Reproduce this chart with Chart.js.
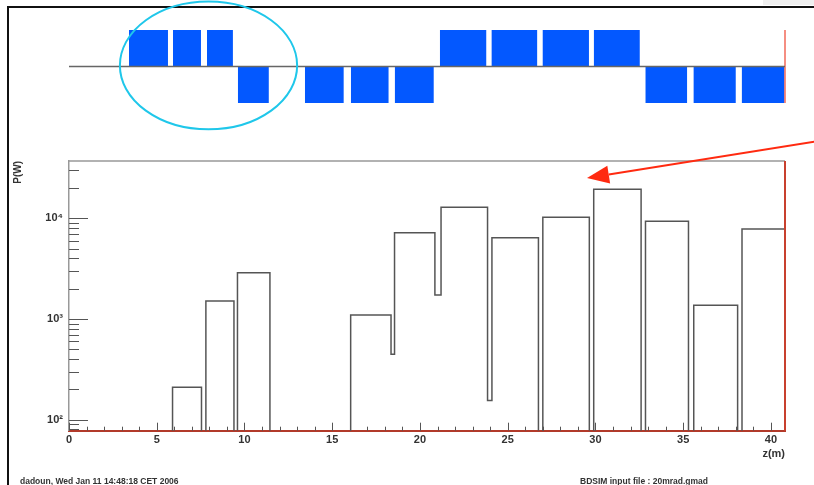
<!DOCTYPE html>
<html>
<head>
<meta charset="utf-8">
<script src="https://cdn.jsdelivr.net/npm/chart.js@4.4.1/dist/chart.umd.min.js"></script>
<style>
  body { margin: 0; background: #fff; }
  #wrap { position: relative; width: 814px; height: 485px; overflow: hidden; background: #fff; }
  #wrap canvas { position: absolute; left: 0; top: 0; }
  #frame { position: absolute; left: 7px; top: 6px; width: 820px; height: 500px; border-top: 2px solid #111; border-left: 2px solid #111; }
  #corner { position: absolute; left: 763px; top: 0; width: 51px; height: 5px; background: #efefef; }
  .foot { position: absolute; font: bold 8.5px "Liberation Sans", Arial, sans-serif; line-height: 10px; color: #333; white-space: nowrap; }
</style>
</head>
<body>
<div id="wrap">
  <div id="corner"></div>
  <div id="frame"></div>
  <canvas id="plotChart" width="814" height="485"></canvas>
  <canvas id="latticeChart" width="814" height="485"></canvas>
  <div class="foot" style="left:20px; top:476px;">dadoun, Wed Jan 11 14:48:18 CET 2006</div>
  <div class="foot" style="left:580px; top:476px;">BDSIM input file : 20mrad.gmad</div>
</div>
<script>
// histogram bins: left edges (last entry is the right edge of the last bin) and power per bin
const binEdges = [0, 5.9, 7.55, 7.8, 9.4, 9.6, 11.45, 16.05, 18.35, 18.55, 20.85, 21.2, 23.85, 24.1,
                  26.75, 27.0, 29.65, 29.9, 32.6, 32.85, 35.3, 35.6, 38.1, 38.35, 40.8];
const binPower = [0, 210, 0, 1510, 0, 2880, 0, 1096, 446, 7190, 1730, 12860, 155, 6410,
                  0, 10230, 0, 19400, 0, 9340, 0, 1370, 0, 7850];

// magnet lattice above the plot (sign: +1 above the beam line, -1 below)
const magnetStart = [3.42, 5.92, 7.86, 9.62, 13.44, 16.06, 18.56, 21.13, 24.07, 26.98, 29.90, 32.84, 35.58, 38.33];
const magnetEnd   = [5.64, 7.52, 9.34, 11.39, 15.66, 18.22, 20.79, 23.79, 26.69, 29.63, 32.53, 35.23, 38.0, 40.78];
const magnetSign  = [1, 1, 1, -1, -1, -1, -1, 1, 1, 1, 1, -1, -1, -1];

const zMin = 0, zMax = 40.8;
const pMin = 77.8, pMax = 37100;

const xMajorTicks = [0, 5, 10, 15, 20, 25, 30, 35, 40];
const xMinorTicks = [];
for (let i = 1; i <= 40; i++) if (i % 5 !== 0) xMinorTicks.push(i);
const yMajorTicks = [100, 1000, 10000];
const yMinorTicks = [80, 90, 200, 300, 400, 500, 600, 700, 800, 900,
                     2000, 3000, 4000, 5000, 6000, 7000, 8000, 9000, 20000, 30000];

const fontFam = '"Liberation Sans", "DejaVu Sans", Arial, sans-serif';
const sup = { 2: '²', 3: '³', 4: '⁴' };

// step histogram points; empty bins sit below the axis and get clipped
const histData = binEdges.map((e, i) => {
    const v = i < binPower.length ? binPower[i] : binPower[binPower.length - 1];
    return { x: e, y: v > 0 ? v : 1 };
});

const inwardTicks = {
    id: 'inwardTicks',
    afterDatasetsDraw(chart) {
        const { ctx, chartArea: a, scales: { x, y } } = chart;
        ctx.save();
        ctx.strokeStyle = '#555';
        ctx.lineWidth = 1;
        ctx.beginPath();
        xMajorTicks.forEach(v => {
            const px = Math.round(x.getPixelForValue(v)) + 0.5;
            ctx.moveTo(px, a.bottom); ctx.lineTo(px, a.bottom - 8);
        });
        xMinorTicks.forEach(v => {
            const px = Math.round(x.getPixelForValue(v)) + 0.5;
            ctx.moveTo(px, a.bottom); ctx.lineTo(px, a.bottom - 4);
        });
        yMajorTicks.forEach(v => {
            const py = Math.round(y.getPixelForValue(v)) + 0.5;
            ctx.moveTo(a.left, py); ctx.lineTo(a.left + 19, py);
        });
        yMinorTicks.forEach(v => {
            const py = Math.round(y.getPixelForValue(v)) + 0.5;
            ctx.moveTo(a.left, py); ctx.lineTo(a.left + 10, py);
        });
        ctx.stroke();

        // top frame line and red right edge
        ctx.strokeStyle = '#999';
        ctx.lineWidth = 1.5;
        ctx.beginPath();
        ctx.moveTo(a.left, a.top); ctx.lineTo(a.right, a.top);
        ctx.stroke();
        ctx.strokeStyle = '#c8402e';
        ctx.lineWidth = 2;
        ctx.beginPath();
        ctx.moveTo(a.right, a.top); ctx.lineTo(a.right, a.bottom);
        ctx.stroke();
        ctx.restore();
    }
};

new Chart(document.getElementById('plotChart').getContext('2d'), {
    type: 'line',
    data: {
        datasets: [{
            data: histData,
            stepped: 'before',
            borderColor: '#555',
            borderWidth: 1.5,
            pointRadius: 0,
            fill: false
        }]
    },
    options: {
        responsive: false,
        animation: false,
        layout: { padding: { left: 8, right: 29, top: 161, bottom: 24.3 } },
        plugins: { legend: { display: false }, tooltip: { enabled: false } },
        scales: {
            x: {
                type: 'linear',
                min: zMin,
                max: zMax,
                grid: { display: false, drawTicks: false },
                border: { color: '#b23a2a', width: 2 },
                ticks: {
                    stepSize: 5,
                    includeBounds: false,
                    maxRotation: 0,
                    padding: 3,
                    color: '#333',
                    font: { family: fontFam, size: 11, weight: 'bold' },
                    callback: v => (v % 5 === 0 ? v : '')
                },
                title: {
                    display: true,
                    text: 'z(m)',
                    align: 'end',
                    color: '#333',
                    font: { family: fontFam, size: 11, weight: 'bold' },
                    padding: { top: 0, bottom: 0 }
                },
                afterFit: s => { s.height = 30; }
            },
            y: {
                type: 'logarithmic',
                min: pMin,
                max: pMax,
                grid: { display: false, drawTicks: false },
                border: { color: '#999', width: 1.5 },
                ticks: {
                    autoSkip: false,
                    padding: 6,
                    color: '#333',
                    font: { family: fontFam, size: 11, weight: 'bold' },
                    callback: v => {
                        const e = Math.log10(v);
                        const r = Math.round(e);
                        return Math.abs(e - r) < 1e-9 && sup[r] ? '10' + sup[r] : '';
                    }
                },
                title: {
                    display: true,
                    text: 'P(W)',
                    align: 'end',
                    color: '#333',
                    font: { family: fontFam, size: 10, weight: 'bold' },
                    padding: { top: 4, bottom: 0 }
                },
                afterFit: s => { s.width = 61; }
            }
        }
    },
    plugins: [inwardTicks]
});

// annotation: cyan ellipse around the first magnets and the red arrow
const marks = {
    id: 'marks',
    afterDraw(chart) {
        const { ctx, scales: { x, y } } = chart;
        ctx.save();
        const x0 = x.getPixelForValue(2.9), x1 = x.getPixelForValue(13.0);
        const y0 = y.getPixelForValue(1.78), y1 = y.getPixelForValue(-1.72);
        ctx.strokeStyle = '#1fc7ea';
        ctx.lineWidth = 2;
        ctx.beginPath();
        ctx.ellipse((x0 + x1) / 2, (y0 + y1) / 2, (x1 - x0) / 2, (y1 - y0) / 2, 0, 0, Math.PI * 2);
        ctx.stroke();

        const sx = 816, sy = 141.5, tx = 587, ty = 178;
        const ang = Math.atan2(ty - sy, tx - sx);
        const hl = 22, hw = 9;
        const bx = tx - hl * Math.cos(ang), by = ty - hl * Math.sin(ang);
        ctx.strokeStyle = '#ff2a10';
        ctx.fillStyle = '#ff2a10';
        ctx.lineWidth = 2;
        ctx.beginPath();
        ctx.moveTo(sx, sy); ctx.lineTo(bx, by);
        ctx.stroke();
        ctx.beginPath();
        ctx.moveTo(tx, ty);
        ctx.lineTo(bx - hw * Math.sin(ang), by + hw * Math.cos(ang));
        ctx.lineTo(bx + hw * Math.sin(ang), by - hw * Math.cos(ang));
        ctx.closePath();
        ctx.fill();
        ctx.restore();
    }
};

const latticeSets = [
    {
        data: [{ x: zMin, y: 0 }, { x: zMax, y: 0 }],
        borderColor: '#666',
        borderWidth: 1.5,
        pointRadius: 0,
        fill: false,
        clip: false
    },
    {
        data: [{ x: zMax, y: 1 }, { x: zMax, y: -1 }],
        borderColor: '#f26a5a',
        borderWidth: 1.5,
        pointRadius: 0,
        fill: false,
        clip: false
    }
];
magnetStart.forEach((s, i) => {
    latticeSets.push({
        data: [{ x: s, y: magnetSign[i] }, { x: magnetEnd[i], y: magnetSign[i] }],
        borderWidth: 0,
        pointRadius: 0,
        backgroundColor: '#0358ff',
        fill: { value: 0 },
        clip: false
    });
});

new Chart(document.getElementById('latticeChart').getContext('2d'), {
    type: 'line',
    data: { datasets: latticeSets },
    options: {
        responsive: false,
        animation: false,
        layout: { padding: { left: 69, right: 29, top: 30, bottom: 382 } },
        plugins: { legend: { display: false }, tooltip: { enabled: false } },
        scales: {
            x: { type: 'linear', min: zMin, max: zMax, display: false },
            y: { type: 'linear', min: -1, max: 1, display: false }
        }
    },
    plugins: [marks]
});
</script>
</body>
</html>
